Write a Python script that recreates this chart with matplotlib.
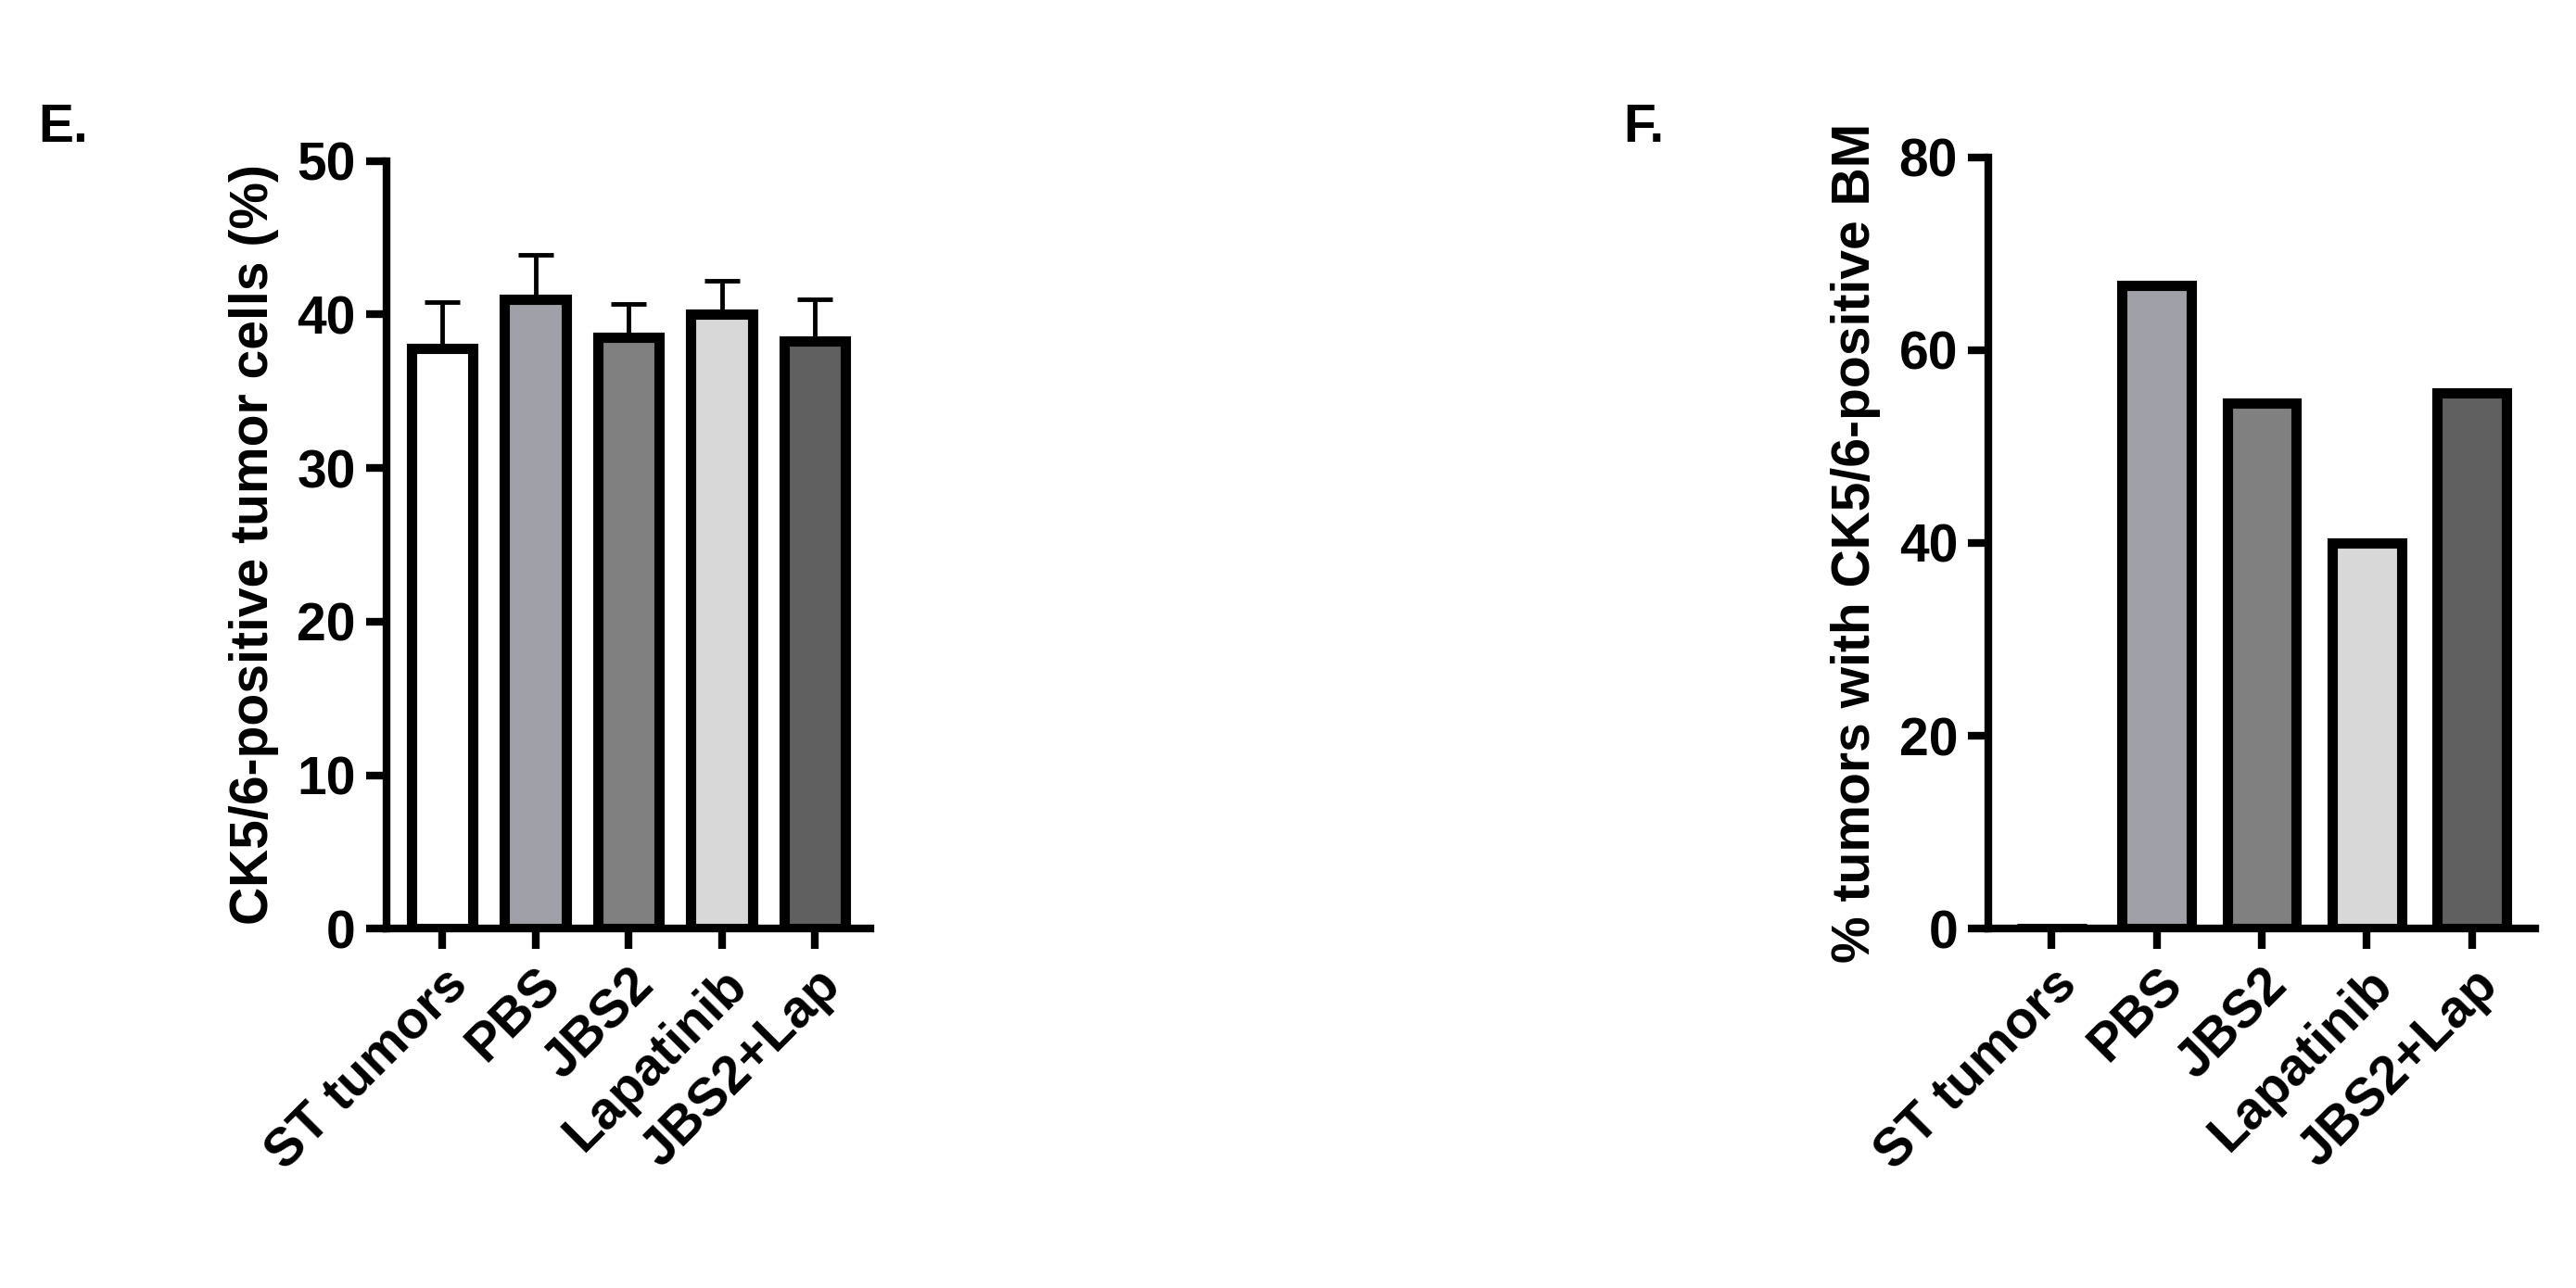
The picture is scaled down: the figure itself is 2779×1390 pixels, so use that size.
import matplotlib
matplotlib.use("Agg")
import matplotlib.pyplot as plt

categories = ["ST tumors", "PBS", "JBS2", "Lapatinib", "JBS2+Lap"]
e_values = [37.8, 41.0, 38.5, 40.0, 38.3]
e_errors = [3.0, 2.9, 2.2, 2.2, 2.7]
f_values = [0, 66.7, 54.5, 40.0, 55.6]
colors = ["#ffffff", "#a0a0a8", "#808080", "#d8d8d8", "#606060"]

plt.rcParams['font.family'] = ['Liberation Sans', 'DejaVu Sans']
plt.rcParams['font.weight'] = 'bold'
fs = 41

fig = plt.figure(figsize=(27.79, 13.90), dpi=100)
ax1 = fig.add_axes([0.15, 0.279, 0.188, 0.596])
ax2 = fig.add_axes([0.772, 0.279, 0.212, 0.599])

def style(ax, ymax, step, label):
    for s in ["top", "right"]:
        ax.spines[s].set_visible(False)
    for s in ["left", "bottom"]:
        ax.spines[s].set_linewidth(6)
    ax.set_ylim(0, ymax)
    ax.set_yticks(range(0, ymax + 1, step))
    ax.tick_params(width=6, length=16, labelsize=fs, pad=8)
    ax.set_xticks(range(len(categories)))
    ax.set_xticklabels(categories, rotation=45, ha="right", rotation_mode="anchor", fontweight="bold")
    for t in ax.get_yticklabels():
        t.set_fontweight("bold")
    ax.set_ylabel(label, fontsize=fs, fontweight="bold", labelpad=14)
    ax.set_xlim(-0.6, len(categories) - 0.4)

ax1.bar(range(5), e_values, width=0.66, color=colors, edgecolor="black", linewidth=8,
        yerr=[[0]*5, e_errors], error_kw=dict(ecolor="black", elinewidth=3.5, capsize=14, capthick=3.5))
style(ax1, 50, 10, "CK5/6-positive tumor cells (%)")

ax2.bar(range(5), f_values, width=0.66, color=colors, edgecolor="black", linewidth=8)
style(ax2, 80, 20, "% tumors with CK5/6-positive BM")

fig.text(0.015, 0.89, "E.", fontsize=fs, fontweight="bold")
fig.text(0.63, 0.89, "F.", fontsize=fs, fontweight="bold")

fig.savefig("out.png", dpi=100)
